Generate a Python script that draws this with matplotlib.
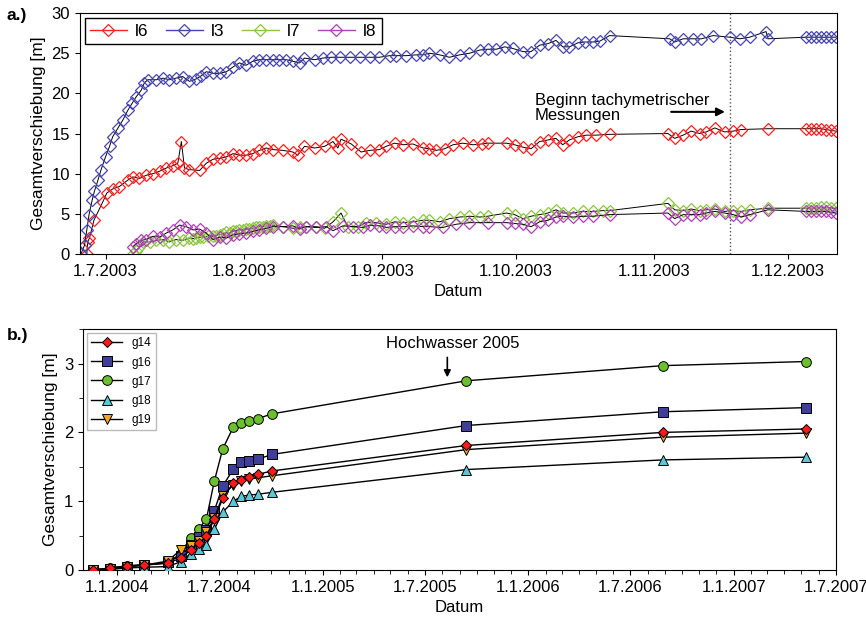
import numpy as np
import pandas as pd
import matplotlib
matplotlib.use('Agg')
import matplotlib.pyplot as plt
import matplotlib.dates as mdates
from matplotlib.lines import Line2D
from matplotlib.ticker import FuncFormatter, MultipleLocator

plt.rcParams['font.family'] = ['Liberation Sans', 'DejaVu Sans']

# --- panel a: days after 1.7.2003, values in m ---
l3_day = [-5.5, -4.7, -4.2, -3.7, -3.0, -2.5, -1.7, -1.0, 0.0, 0.9, 1.6, 2.8, 3.9, 5.0, 6.0, 6.9,
          8.0, 8.7, 9.5, 11.4, 12.9, 14.3, 15.8, 17.3, 18.8, 20.3, 21.5, 22.6, 24.1, 25.6, 27.1,
          28.6, 30.0, 31.5, 33.0, 34.5, 36.0, 37.5, 39.0, 40.5, 42.0, 43.5, 44.6, 46.9, 48.7,
          50.6, 52.5, 54.7, 57.0, 59.2, 61.4, 63.7, 65.2, 67.4, 69.7, 71.2, 72.6, 74.9, 77.1,
          79.4, 81.6, 83.9, 85.7, 87.6, 89.5, 91.3, 93.6, 95.4, 97.3, 99.2, 101.0, 102.5, 104.0,
          105.9, 107.4, 109.3, 110.8, 113.0, 126.5, 127.6, 129.5, 131.7, 133.6, 136.2, 139.9,
          142.2, 144.4, 148.1, 148.5, 157.1, 158.2, 159.3, 160.4, 161.6, 162.6, 163.7]
l3_val = [0.0, 1.1, 3.0, 4.9, 6.7, 7.8, 9.2, 10.5, 12.1, 13.4, 14.6, 15.7, 16.7, 17.9, 18.8, 19.6,
          20.4, 21.3, 21.7, 21.7, 21.9, 21.7, 21.9, 22.1, 21.5, 21.8, 22.2, 22.7, 22.5, 22.5, 22.7,
          23.3, 23.8, 23.5, 24.0, 24.2, 24.2, 24.2, 24.2, 24.2, 24.0, 23.8, 24.4, 24.2, 24.4,
          24.5, 24.5, 24.5, 24.5, 24.5, 24.5, 24.7, 24.7, 24.7, 24.8, 24.8, 25.0, 24.8, 24.5,
          24.8, 25.0, 25.4, 25.5, 25.5, 25.8, 25.6, 25.2, 25.2, 26.0, 26.2, 26.6, 25.8, 25.8,
          26.3, 26.4, 26.4, 26.5, 27.2, 26.8, 26.4, 26.8, 26.8, 26.8, 27.2, 27.0,
          26.8, 27.0, 27.7, 26.8, 27.0, 27.0, 27.0, 27.0, 27.0, 27.0, 27.0]

l6_day = [-4.2, -4.0, -3.6, -2.6, -0.6, 0.3, 1.6, 3.1, 5.0, 6.1, 7.6, 9.1, 10.6, 12.1, 13.6, 15.1,
          16.2, 17.0, 17.7, 18.8, 21.1, 22.6, 24.1, 25.6, 27.1, 28.6, 30.0, 31.5, 33.0, 34.5,
          36.0, 37.5, 39.8, 42.0, 43.1, 44.6, 46.9, 49.1, 51.0, 52.1, 52.8, 55.1, 57.3, 59.2,
          61.4, 62.9, 64.8, 66.7, 68.9, 71.2, 72.6, 74.1, 76.0, 77.9, 80.1, 82.4, 84.3, 85.7,
          89.9, 91.7, 93.6, 95.4, 97.3, 99.2, 101.0, 102.5, 104.0, 105.9, 107.8, 110.0, 113.0,
          126.1, 127.6, 129.5, 131.3, 133.2, 134.7, 136.6, 138.8, 140.7, 142.5, 148.5, 157.1,
          158.2, 159.3, 160.4, 161.6, 162.6, 163.7]
l6_val = [0.0, 1.5, 2.0, 4.2, 6.5, 7.6, 8.1, 8.4, 9.2, 9.6, 9.4, 9.8, 10.0, 10.3, 10.7, 11.0,
          11.3, 14.0, 10.7, 10.5, 10.4, 11.3, 11.8, 11.9, 12.1, 12.5, 12.3, 12.3, 12.5, 12.9,
          13.2, 13.0, 12.9, 12.7, 12.3, 13.4, 13.2, 13.4, 14.0, 13.2, 14.3, 13.7, 12.7, 12.9,
          13.0, 13.4, 13.8, 13.6, 13.7, 13.2, 13.1, 12.9, 13.1, 13.6, 13.8, 13.6, 13.7, 13.8,
          13.8, 13.6, 13.3, 13.1, 14.0, 14.2, 14.4, 13.6, 14.2, 14.6, 14.8, 14.8, 14.9,
          15.0, 14.4, 14.8, 15.3, 15.0, 15.2, 15.7, 15.2, 15.3, 15.5, 15.6, 15.6,
          15.6, 15.6, 15.6, 15.5, 15.4, 15.3]

l7_day = [6.1, 6.9, 7.6, 8.4, 9.9, 11.4, 12.9, 14.3, 15.8, 17.3, 18.8, 19.6, 20.3, 21.1, 21.8, 23.0,
          24.1, 24.8, 25.6, 26.3, 27.1, 27.8, 28.6, 29.3, 30.0, 30.8, 31.5, 32.2, 33.0, 33.8,
          34.5, 35.2, 36.0, 36.8, 37.5, 39.8, 42.0, 43.5, 45.0, 47.2, 49.1, 51.0, 52.8, 54.3,
          56.6, 58.4, 60.7, 62.9, 64.8, 66.7, 68.9, 71.2, 72.6, 74.9, 77.1, 79.4, 81.6, 83.9,
          85.7, 89.9, 91.7, 93.6, 95.4, 97.3, 99.2, 101.0, 102.5, 104.8, 107.0, 109.3, 111.5,
          113.0, 126.1, 127.6, 129.5, 131.3, 133.2, 134.7, 136.6, 138.8, 140.7, 142.5, 144.4,
          148.5, 157.1, 158.2, 159.3, 160.4, 161.6, 162.6, 163.7]
l7_val = [0.0, 0.4, 0.9, 1.5, 1.5, 1.7, 1.8, 1.5, 1.8, 1.7, 2.0, 1.9, 2.0, 2.1, 2.1, 2.2,
          2.2, 2.3, 2.4, 2.5, 2.7, 2.6, 2.8, 2.9, 3.0, 3.0, 3.1, 3.1, 3.2, 3.3,
          3.4, 3.4, 3.5, 3.5, 3.6, 3.4, 3.2, 3.3, 3.4, 3.4, 3.2, 4.0, 5.1, 3.4,
          3.4, 3.9, 3.9, 3.7, 4.0, 3.9, 4.0, 4.2, 4.2, 4.0, 4.4, 4.6, 4.7, 4.6,
          4.7, 5.1, 4.9, 4.4, 4.7, 4.9, 5.1, 5.5, 5.1, 5.1, 5.3, 5.3, 5.4,
          5.4, 6.3, 5.5, 5.4, 5.6, 5.4, 5.5, 5.6, 5.3, 5.4, 5.3, 5.5,
          5.7, 5.7, 5.7, 5.7, 5.8, 5.8, 5.7, 5.7]

l8_day = [6.1, 6.9, 8.0, 9.1, 10.6, 12.1, 13.6, 15.1, 16.6, 18.1, 19.6, 21.1, 22.6, 24.1, 25.6,
          27.1, 28.6, 30.0, 31.5, 33.0, 34.5, 36.0, 37.5, 39.8, 42.0, 43.5, 45.0, 47.2, 49.5,
          51.0, 53.2, 55.5, 57.7, 59.2, 61.4, 62.9, 64.8, 66.7, 68.9, 71.2, 72.6, 75.6, 78.6,
          81.6, 85.7, 89.9, 91.7, 93.6, 95.4, 97.3, 99.2, 101.0, 102.5, 104.8, 107.0, 109.3,
          113.0, 126.1, 127.6, 129.5, 131.3, 133.2, 134.7, 136.6, 138.8, 140.7, 142.5, 144.4,
          148.5, 157.1, 158.2, 159.3, 160.4, 161.6, 162.6, 163.7]
l8_val = [0.9, 1.3, 1.7, 1.8, 2.2, 2.1, 2.6, 3.0, 3.6, 3.4, 3.0, 3.1, 2.6, 1.8, 2.1,
          2.0, 2.4, 2.5, 2.6, 2.8, 3.0, 3.2, 3.4, 3.4, 3.5, 3.1, 3.4, 3.3, 3.4,
          2.9, 3.5, 3.4, 3.3, 3.6, 3.5, 3.3, 3.4, 3.4, 3.5, 3.4, 3.4, 3.3, 3.7,
          3.9, 3.9, 3.9, 3.8, 3.7, 3.4, 4.0, 4.2, 4.6, 4.7, 4.6, 4.7, 4.7,
          4.9, 5.1, 4.4, 4.9, 4.9, 4.9, 5.1, 5.3, 5.1, 4.9, 4.6, 4.9,
          5.5, 5.3, 5.3, 5.3, 5.3, 5.3, 5.2, 5.1]

# --- panel b ---
g_dates = ['2003-11-20', '2003-12-20', '2004-01-19', '2004-02-18', '2004-03-31', '2004-04-23',
           '2004-05-11', '2004-05-25', '2004-06-08', '2004-06-22', '2004-07-07', '2004-07-26',
           '2004-08-09', '2004-08-23', '2004-09-07', '2004-10-03', '2005-09-13', '2006-08-28',
           '2007-05-10']
g14 = [0.0, 0.03, 0.06, 0.07, 0.10, 0.17, 0.29, 0.39, 0.49, 0.74, 1.04, 1.27, 1.31, 1.35, 1.39, 1.44, 1.81, 2.00, 2.05]
g16 = [0.0, 0.02, 0.05, 0.07, 0.11, 0.21, 0.36, 0.48, 0.58, 0.86, 1.22, 1.47, 1.57, 1.59, 1.61, 1.68, 2.10, 2.30, 2.36]
g17 = [0.0, 0.03, 0.06, 0.08, 0.10, 0.24, 0.47, 0.59, 0.74, 1.29, 1.76, 2.08, 2.14, 2.17, 2.20, 2.27, 2.75, 2.97, 3.03]
g18 = [0.0, 0.01, 0.03, 0.04, 0.05, 0.12, 0.24, 0.31, 0.37, 0.59, 0.84, 1.00, 1.07, 1.09, 1.10, 1.13, 1.46, 1.60, 1.64]
g19 = [0.0, 0.02, 0.05, 0.07, 0.13, 0.29, 0.35, 0.42, 0.55, 0.75, 1.08, 1.24, 1.29, 1.32, 1.34, 1.37, 1.75, 1.93, 1.99]

t0 = pd.Timestamp('2003-07-01')
def to_dates(days):
    return t0 + pd.to_timedelta(np.array(days), unit='D')

def dmy(x, pos=None):
    d = mdates.num2date(x)
    return f'{d.day}.{d.month}.{d.year}'

fig = plt.figure(figsize=(8.66, 6.24), dpi=100)

# ---- a.) ----
ax1 = fig.add_axes([0.092, 0.593, 0.874, 0.386])
top_series = [('l6', l6_day, l6_val, '#FF2020'),
              ('l3', l3_day, l3_val, '#4646B0'),
              ('l7', l7_day, l7_val, '#8CC63F'),
              ('l8', l8_day, l8_val, '#B040B8')]
handles = []
for name, d, v, c in top_series:
    ax1.plot(to_dates(d), v, color='k', lw=0.7, marker='D', ms=5.8, mfc='none', mec=c, mew=0.9)
    handles.append(Line2D([], [], color=c, lw=1, marker='D', ms=6, mfc='none', mec=c, mew=0.9))

ax1.axvline(t0 + pd.Timedelta(days=140.1), color='#555555', ls=':', lw=1)
ax1.set_xlim(t0 + pd.Timedelta(days=-5.8), t0 + pd.Timedelta(days=163.9))
ax1.set_ylim(0, 30)
ax1.yaxis.set_major_locator(MultipleLocator(5))
ax1.xaxis.set_major_locator(mdates.MonthLocator(bymonthday=1))
ax1.xaxis.set_major_formatter(FuncFormatter(dmy))
ax1.tick_params(labelsize=12)
ax1.set_ylabel('Gesamtverschiebung [m]', fontsize=12.5)
ax1.set_xlabel('Datum', fontsize=12)
leg = ax1.legend(handles, ['l6', 'l3', 'l7', 'l8'], loc='upper left', ncol=4, fontsize=12.5,
                 fancybox=False, edgecolor='k', framealpha=1, handlelength=2.1,
                 handletextpad=0.5, columnspacing=1.0, borderaxespad=0.3, borderpad=0.3)
leg.get_frame().set_linewidth(1)
ax1.text(t0 + pd.Timedelta(days=96.2), 18.2, 'Beginn tachymetrischer\nMessungen',
         fontsize=12, ha='left', va='center', linespacing=1.05)
ax1.annotate('', xy=(t0 + pd.Timedelta(days=139.5), 17.7),
             xytext=(t0 + pd.Timedelta(days=126.2), 17.7),
             arrowprops=dict(arrowstyle='-|>', color='k', lw=1.5, mutation_scale=12))
fig.text(0.008, 0.975, 'a.)', fontsize=12.5, fontweight='bold', va='center')

# ---- b.) ----
ax2 = fig.add_axes([0.096, 0.0865, 0.869, 0.386])
gd = pd.to_datetime(g_dates)
bot_series = [('g14', g14, 'D', '#FF1A1A', 5.5, 4),
              ('g16', g16, 's', '#3F3F9A', 6.5, 2),
              ('g17', g17, 'o', '#6CBF2E', 7, 1),
              ('g18', g18, '^', '#5CC8D6', 7, 3),
              ('g19', g19, 'v', '#F5A623', 7, 3.5)]
for name, v, m, c, s, z in bot_series:
    ax2.plot(gd, v, color='k', lw=1, marker=m, ms=s, mfc=c, mec='k', mew=0.7,
             label=name, zorder=z)
ax2.set_xlim(pd.Timestamp('2003-11-02'), pd.Timestamp('2007-07-01'))
ax2.set_ylim(0, 3.5)
ax2.yaxis.set_major_locator(MultipleLocator(1))
ax2.yaxis.set_minor_locator(MultipleLocator(0.5))
ax2.xaxis.set_major_locator(mdates.MonthLocator(bymonth=[1, 7], bymonthday=1))
ax2.xaxis.set_minor_locator(mdates.MonthLocator(bymonthday=1))
ax2.xaxis.set_major_formatter(FuncFormatter(dmy))
ax2.tick_params(labelsize=12)
ax2.tick_params(which='minor', length=3)
ax2.set_ylabel('Gesamtverschiebung [m]', fontsize=12.5)
ax2.set_xlabel('Datum', fontsize=12)
leg2 = ax2.legend(loc='upper left', fontsize=8.5, fancybox=False, edgecolor='#BBBBBB',
                  framealpha=1, handlelength=2.6, labelspacing=0.6, borderaxespad=0.3)
ax2.text(pd.Timestamp('2005-04-23'), 3.29, 'Hochwasser 2005', fontsize=12, ha='left', va='center')
ax2.annotate('', xy=(pd.Timestamp('2005-08-10'), 2.76), xytext=(pd.Timestamp('2005-08-10'), 3.13),
             arrowprops=dict(arrowstyle='-|>', color='k', lw=1.2, mutation_scale=10))
fig.text(0.008, 0.462, 'b.)', fontsize=12.5, fontweight='bold', va='center')

fig.savefig('out.png', dpi=100)
